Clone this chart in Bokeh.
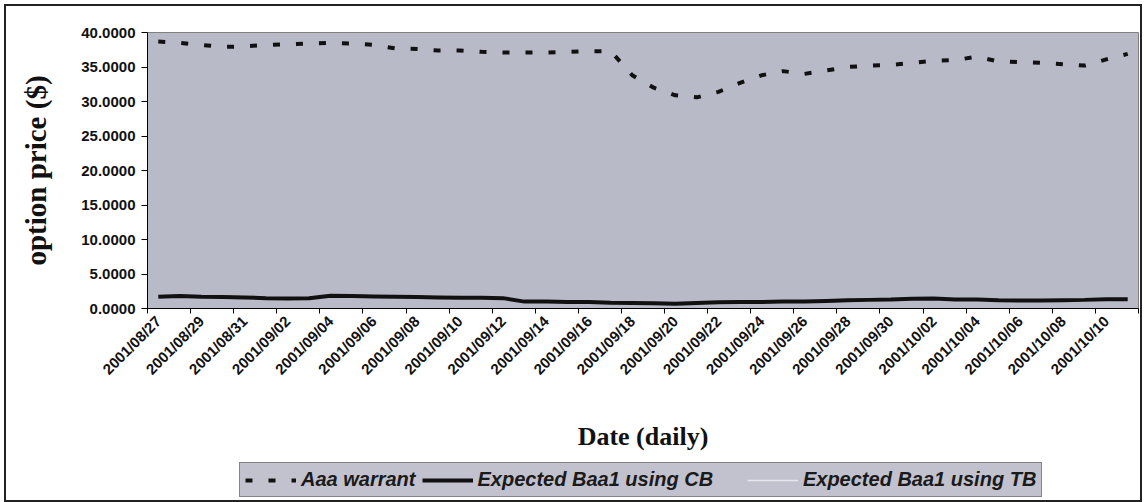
import math
from bokeh.plotting import figure
from bokeh.layouts import column
from bokeh.models import (FixedTicker, NumeralTickFormatter, Legend, LegendItem, Range1d)
from bokeh.embed import file_html
from bokeh.resources import INLINE

# ---------------- data ----------------
dates = [
    "2001/08/27", "2001/08/28", "2001/08/29", "2001/08/30", "2001/08/31",
    "2001/09/01", "2001/09/02", "2001/09/03", "2001/09/04", "2001/09/05",
    "2001/09/06", "2001/09/07", "2001/09/08", "2001/09/09", "2001/09/10",
    "2001/09/11", "2001/09/12", "2001/09/13", "2001/09/14", "2001/09/15",
    "2001/09/16", "2001/09/17", "2001/09/18", "2001/09/19", "2001/09/20",
    "2001/09/21", "2001/09/22", "2001/09/23", "2001/09/24", "2001/09/25",
    "2001/09/26", "2001/09/27", "2001/09/28", "2001/09/29", "2001/09/30",
    "2001/10/01", "2001/10/02", "2001/10/03", "2001/10/04", "2001/10/05",
    "2001/10/06", "2001/10/07", "2001/10/08", "2001/10/09", "2001/10/10",
    "2001/10/11",
]

aaa_warrant = [
    38.7, 38.5, 38.2, 37.9, 38.0, 38.2, 38.3, 38.4, 38.5, 38.4,
    38.2, 37.7, 37.6, 37.4, 37.4, 37.2, 37.1, 37.1, 37.1, 37.2,
    37.3, 37.3, 33.8, 32.0, 30.9, 30.6, 31.4, 32.7, 33.8, 34.4,
    34.0, 34.5, 35.0, 35.2, 35.3, 35.6, 35.9, 36.0, 36.5, 35.8,
    35.7, 35.6, 35.4, 35.2, 36.1, 36.9,
]

baa1_cb = [
    1.70, 1.80, 1.70, 1.65, 1.60, 1.50, 1.45, 1.50, 1.85, 1.80,
    1.75, 1.70, 1.65, 1.60, 1.55, 1.55, 1.50, 1.00, 1.00, 0.95,
    0.95, 0.85, 0.80, 0.75, 0.70, 0.80, 0.90, 0.95, 0.95, 1.00,
    1.00, 1.10, 1.20, 1.25, 1.30, 1.40, 1.45, 1.30, 1.30, 1.20,
    1.15, 1.15, 1.20, 1.25, 1.35, 1.35,
]

baa1_tb = [
    1.60, 1.70, 1.60, 1.55, 1.50, 1.40, 1.35, 1.40, 1.75, 1.70,
    1.65, 1.60, 1.55, 1.50, 1.45, 1.45, 1.40, 0.90, 0.90, 0.85,
    0.85, 0.75, 0.70, 0.65, 0.60, 0.70, 0.80, 0.85, 0.85, 0.90,
    0.90, 1.00, 1.10, 1.15, 1.20, 1.30, 1.35, 1.20, 1.20, 1.10,
    1.05, 1.05, 1.10, 1.15, 1.25, 1.25,
]

y_ticks = [0, 5, 10, 15, 20, 25, 30, 35, 40]

series_names = ["Aaa warrant", "Expected Baa1 using CB", "Expected Baa1 using TB"]

# styles
aaa_style = dict(color="#111111", line_width=4, line_dash="7 16")
cb_style = dict(color="#111111", line_width=4)
tb_style = dict(color="#e6e6ee", line_width=1.5)

# ---------------- main chart ----------------
n = len(dates)
xs = list(range(n))

p = figure(
    width=1134, height=452,
    output_backend="svg", toolbar_location=None,
    x_range=Range1d(-0.5, n - 0.5), y_range=Range1d(0, 40),
    min_border_left=141, min_border_right=2, min_border_top=26, min_border_bottom=150,
)
p.background_fill_color = "#b9bac8"
p.border_fill_color = "white"
p.outline_line_color = "#808080"
p.outline_line_width = 1
p.grid.visible = False

p.line(xs, baa1_tb, **tb_style)
p.line(xs, baa1_cb, **cb_style)
p.line(xs, aaa_warrant, **aaa_style)

# x axis: labels every 2nd category, tick marks between categories
lab_pos = list(range(0, n, 2))
xa = p.xaxis[0]
xa.ticker = FixedTicker(ticks=lab_pos, minor_ticks=[k - 0.5 for k in range(0, n + 1, 2)])
xa.major_label_overrides = {k: dates[k] for k in lab_pos}
xa.major_label_orientation = math.pi / 4
xa.major_tick_line_color = None
xa.major_tick_in = 0
xa.major_tick_out = 5
xa.minor_tick_line_color = "black"
xa.minor_tick_in = 0
xa.minor_tick_out = 5
xa.axis_line_color = "black"
xa.major_label_text_font = "Liberation Sans"
xa.major_label_text_font_style = "bold"
xa.major_label_text_font_size = "15px"
xa.major_label_text_color = "#111111"
xa.major_label_standoff = 5
xa.axis_label = "Date (daily)"
xa.axis_label_text_font = "Liberation Serif"
xa.axis_label_text_font_style = "bold"
xa.axis_label_text_font_size = "26px"
xa.axis_label_text_color = "#111111"
xa.axis_label_standoff = 35

ya = p.yaxis[0]
ya.ticker = FixedTicker(ticks=y_ticks, minor_ticks=[])
ya.formatter = NumeralTickFormatter(format="0.0000")
ya.major_tick_in = 0
ya.major_tick_out = 6
ya.major_tick_line_color = "black"
ya.axis_line_color = "black"
ya.major_label_text_font = "Liberation Sans"
ya.major_label_text_font_style = "bold"
ya.major_label_text_font_size = "15px"
ya.major_label_text_color = "#111111"
ya.major_label_standoff = 6
ya.axis_label = "option price ($)"
ya.axis_label_text_font = "Liberation Serif"
ya.axis_label_text_font_style = "bold"
ya.axis_label_text_font_size = "29px"
ya.axis_label_text_color = "#111111"
ya.axis_label_standoff = 26

# ---------------- legend strip ----------------
# Same series drawn in a strip whose y-range lies far above the data, so only
# the legend (not the lines) is visible there.
pl = figure(
    width=1134, height=42,
    output_backend="svg", toolbar_location=None,
    x_range=Range1d(-0.5, n - 0.5), y_range=Range1d(1000, 1001),
    x_axis_location=None, y_axis_location=None,
    min_border_left=0, min_border_right=0, min_border_top=0, min_border_bottom=0,
)
pl.grid.visible = False
pl.outline_line_color = None
pl.background_fill_color = "white"
pl.border_fill_color = "white"

g_aaa = pl.line(xs, aaa_warrant, **aaa_style)
g_cb = pl.line(xs, baa1_cb, **cb_style)
g_tb = pl.line(xs, baa1_tb, **tb_style)

legend = Legend(
    items=[
        LegendItem(label=series_names[0], renderers=[g_aaa]),
        LegendItem(label=series_names[1] + "\u00a0" * 5, renderers=[g_cb]),
        LegendItem(label=series_names[2], renderers=[g_tb]),
    ],
    orientation="horizontal",
    location=(92, 3),
    glyph_width=51, glyph_height=20,
    label_standoff=5, spacing=6, padding=5, margin=0,
    label_text_font="Liberation Sans", label_text_font_style="bold italic",
    label_text_font_size="20px", label_text_color="#1a1a1a",
    background_fill_color="#c2c2ce", background_fill_alpha=1,
    border_line_color="#444444", border_line_width=1.5,
)
pl.add_layout(legend)

layout = column(p, pl, spacing=0, margin=(6, 0, 0, 6))
layout.styles = {"outline": "2px solid #222222"}

open("out.html", "w").write(file_html(layout, INLINE))
